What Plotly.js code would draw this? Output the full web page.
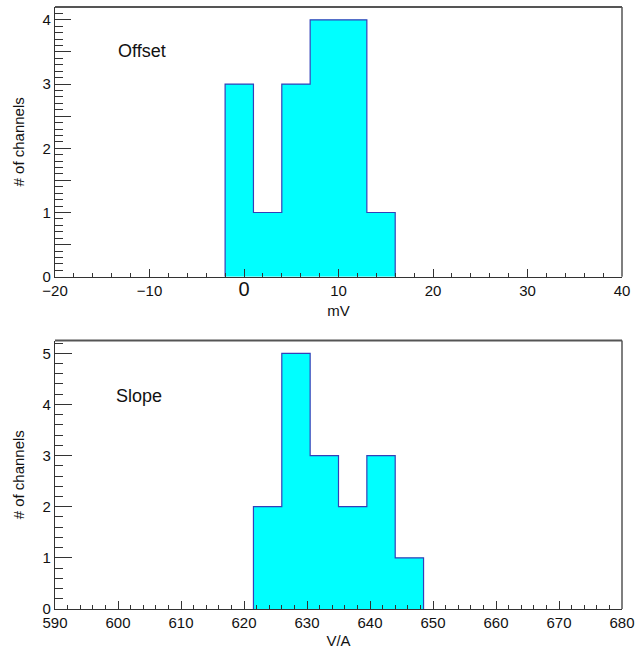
<!DOCTYPE html>
<html>
<head>
<meta charset="utf-8">
<script src="https://cdn.plot.ly/plotly-3.0.1.min.js"></script>
<style>html,body{margin:0;padding:0;background:#fff;}#chart{width:641px;height:649px;}</style>
</head>
<body>
<div id="chart"></div>
<script>
// Offset histogram (mV)
const offsetEdges = [-2, 1, 4, 7, 10, 13, 16];
const offsetCounts = [3, 1, 3, 4, 4, 1];
// Slope histogram (V/A)
const slopeEdges = [621.5, 626.0, 630.5, 635.0, 639.5, 644.0, 648.5];
const slopeCounts = [2, 5, 3, 2, 3, 1];

const offsetTickVals = [-20, -10, 0, 10, 20, 30, 40];
const offsetTickText = ['\u221220', '\u221210', '<span style="font-size:20px">0</span>', '10', '20', '30', '40'];
const slopeTickVals = [590, 600, 610, 620, 630, 640, 650, 660, 670, 680];
const slopeTickText = ['590', '600', '610', '620', '630', '640', '650', '660', '670', '680'];
const topYVals = [0, 0.5, 1, 1.5, 2, 2.5, 3, 3.5, 4];
const topYText = ['0', '', '1', '', '2', '', '3', '', '4'];

function stepXY(edges, counts) {
  const x = [edges[0]], y = [0];
  for (let i = 0; i < counts.length; i++) { x.push(edges[i]); y.push(counts[i]); }
  x.push(edges[edges.length - 1]); y.push(0);
  return {x, y};
}

const FONT = 'Liberation Sans, Arial, Helvetica, sans-serif';
const fillCol = '#00ffff';
const lineCol = '#3340b8';

const s1 = stepXY(offsetEdges, offsetCounts);
const s2 = stepXY(slopeEdges, slopeCounts);

const traces = [
  {x: s1.x, y: s1.y, type: 'scatter', mode: 'lines', line: {shape: 'hv', color: lineCol, width: 1.2},
   fill: 'tozeroy', fillcolor: fillCol, xaxis: 'x', yaxis: 'y', hoverinfo: 'skip'},
  {x: s2.x, y: s2.y, type: 'scatter', mode: 'lines', line: {shape: 'hv', color: lineCol, width: 1.2},
   fill: 'tozeroy', fillcolor: fillCol, xaxis: 'x2', yaxis: 'y2', hoverinfo: 'skip'}
];

const axCommon = {
  showgrid: false, zeroline: false, showline: true, linecolor: '#333', linewidth: 1.2,
  ticks: 'inside', tickcolor: '#333', tickwidth: 1,
  tickfont: {family: FONT, size: 15, color: '#111'}
};

const layout = {
  width: 641, height: 649,
  margin: {l: 55, r: 19, t: 7, b: 40},
  paper_bgcolor: '#fff', plot_bgcolor: '#fff',
  showlegend: false,
  font: {family: FONT, color: '#111'},
  xaxis: Object.assign({}, axCommon, {
    domain: [0, 1], anchor: 'y', range: [-20, 40],
    tickmode: 'array', tickvals: offsetTickVals, ticktext: offsetTickText, ticklen: 8,
    minor: {dtick: 2, ticklen: 4, ticks: 'inside', tickcolor: '#333'},
    title: {text: 'mV', font: {family: FONT, size: 15, color: '#111'}, standoff: 6}
  }),
  yaxis: Object.assign({}, axCommon, {
    domain: [0.552, 1], anchor: 'x', range: [0, 4.2],
    tickmode: 'array', tickvals: topYVals, ticktext: topYText, ticklen: 16,
    minor: {dtick: 0.1, ticklen: 8, ticks: 'inside', tickcolor: '#333'},
    title: {text: '# of channels', font: {family: FONT, size: 15, color: '#111'}, standoff: 14}
  }),
  xaxis2: Object.assign({}, axCommon, {
    domain: [0, 1], anchor: 'y2', range: [590, 680],
    tickmode: 'array', tickvals: slopeTickVals, ticktext: slopeTickText, ticklen: 8,
    minor: {dtick: 2, ticklen: 4, ticks: 'inside', tickcolor: '#333'},
    title: {text: 'V/A', font: {family: FONT, size: 15, color: '#111'}, standoff: 6}
  }),
  yaxis2: Object.assign({}, axCommon, {
    domain: [0, 0.446], anchor: 'x2', range: [0, 5.25],
    dtick: 1, tick0: 0, ticklen: 17,
    minor: {dtick: 0.2, ticklen: 8, ticks: 'inside', tickcolor: '#333'},
    title: {text: '# of channels', font: {family: FONT, size: 15, color: '#111'}, standoff: 14}
  }),
  shapes: [
    {type: 'line', xref: 'x domain', yref: 'y domain', x0: 0, x1: 1, y0: 1, y1: 1, line: {color: '#555', width: 2}},
    {type: 'line', xref: 'x domain', yref: 'y domain', x0: 1, x1: 1, y0: 0, y1: 1, line: {color: '#555', width: 1.5}},
    {type: 'line', xref: 'x2 domain', yref: 'y2 domain', x0: 0, x1: 1, y0: 1, y1: 1, line: {color: '#555', width: 2}},
    {type: 'line', xref: 'x2 domain', yref: 'y2 domain', x0: 1, x1: 1, y0: 0, y1: 1, line: {color: '#555', width: 1.5}}
  ],
  annotations: [
    {text: 'Offset', xref: 'x domain', yref: 'y domain', x: 0.153, y: 0.835, showarrow: false,
     xanchor: 'center', yanchor: 'middle', font: {family: FONT, size: 18, color: '#111'}},
    {text: 'Slope', xref: 'x2 domain', yref: 'y2 domain', x: 0.149, y: 0.794, showarrow: false,
     xanchor: 'center', yanchor: 'middle', font: {family: FONT, size: 18, color: '#111'}}
  ]
};

Plotly.newPlot('chart', traces, layout, {staticPlot: true, displayModeBar: false});
</script>
</body>
</html>
